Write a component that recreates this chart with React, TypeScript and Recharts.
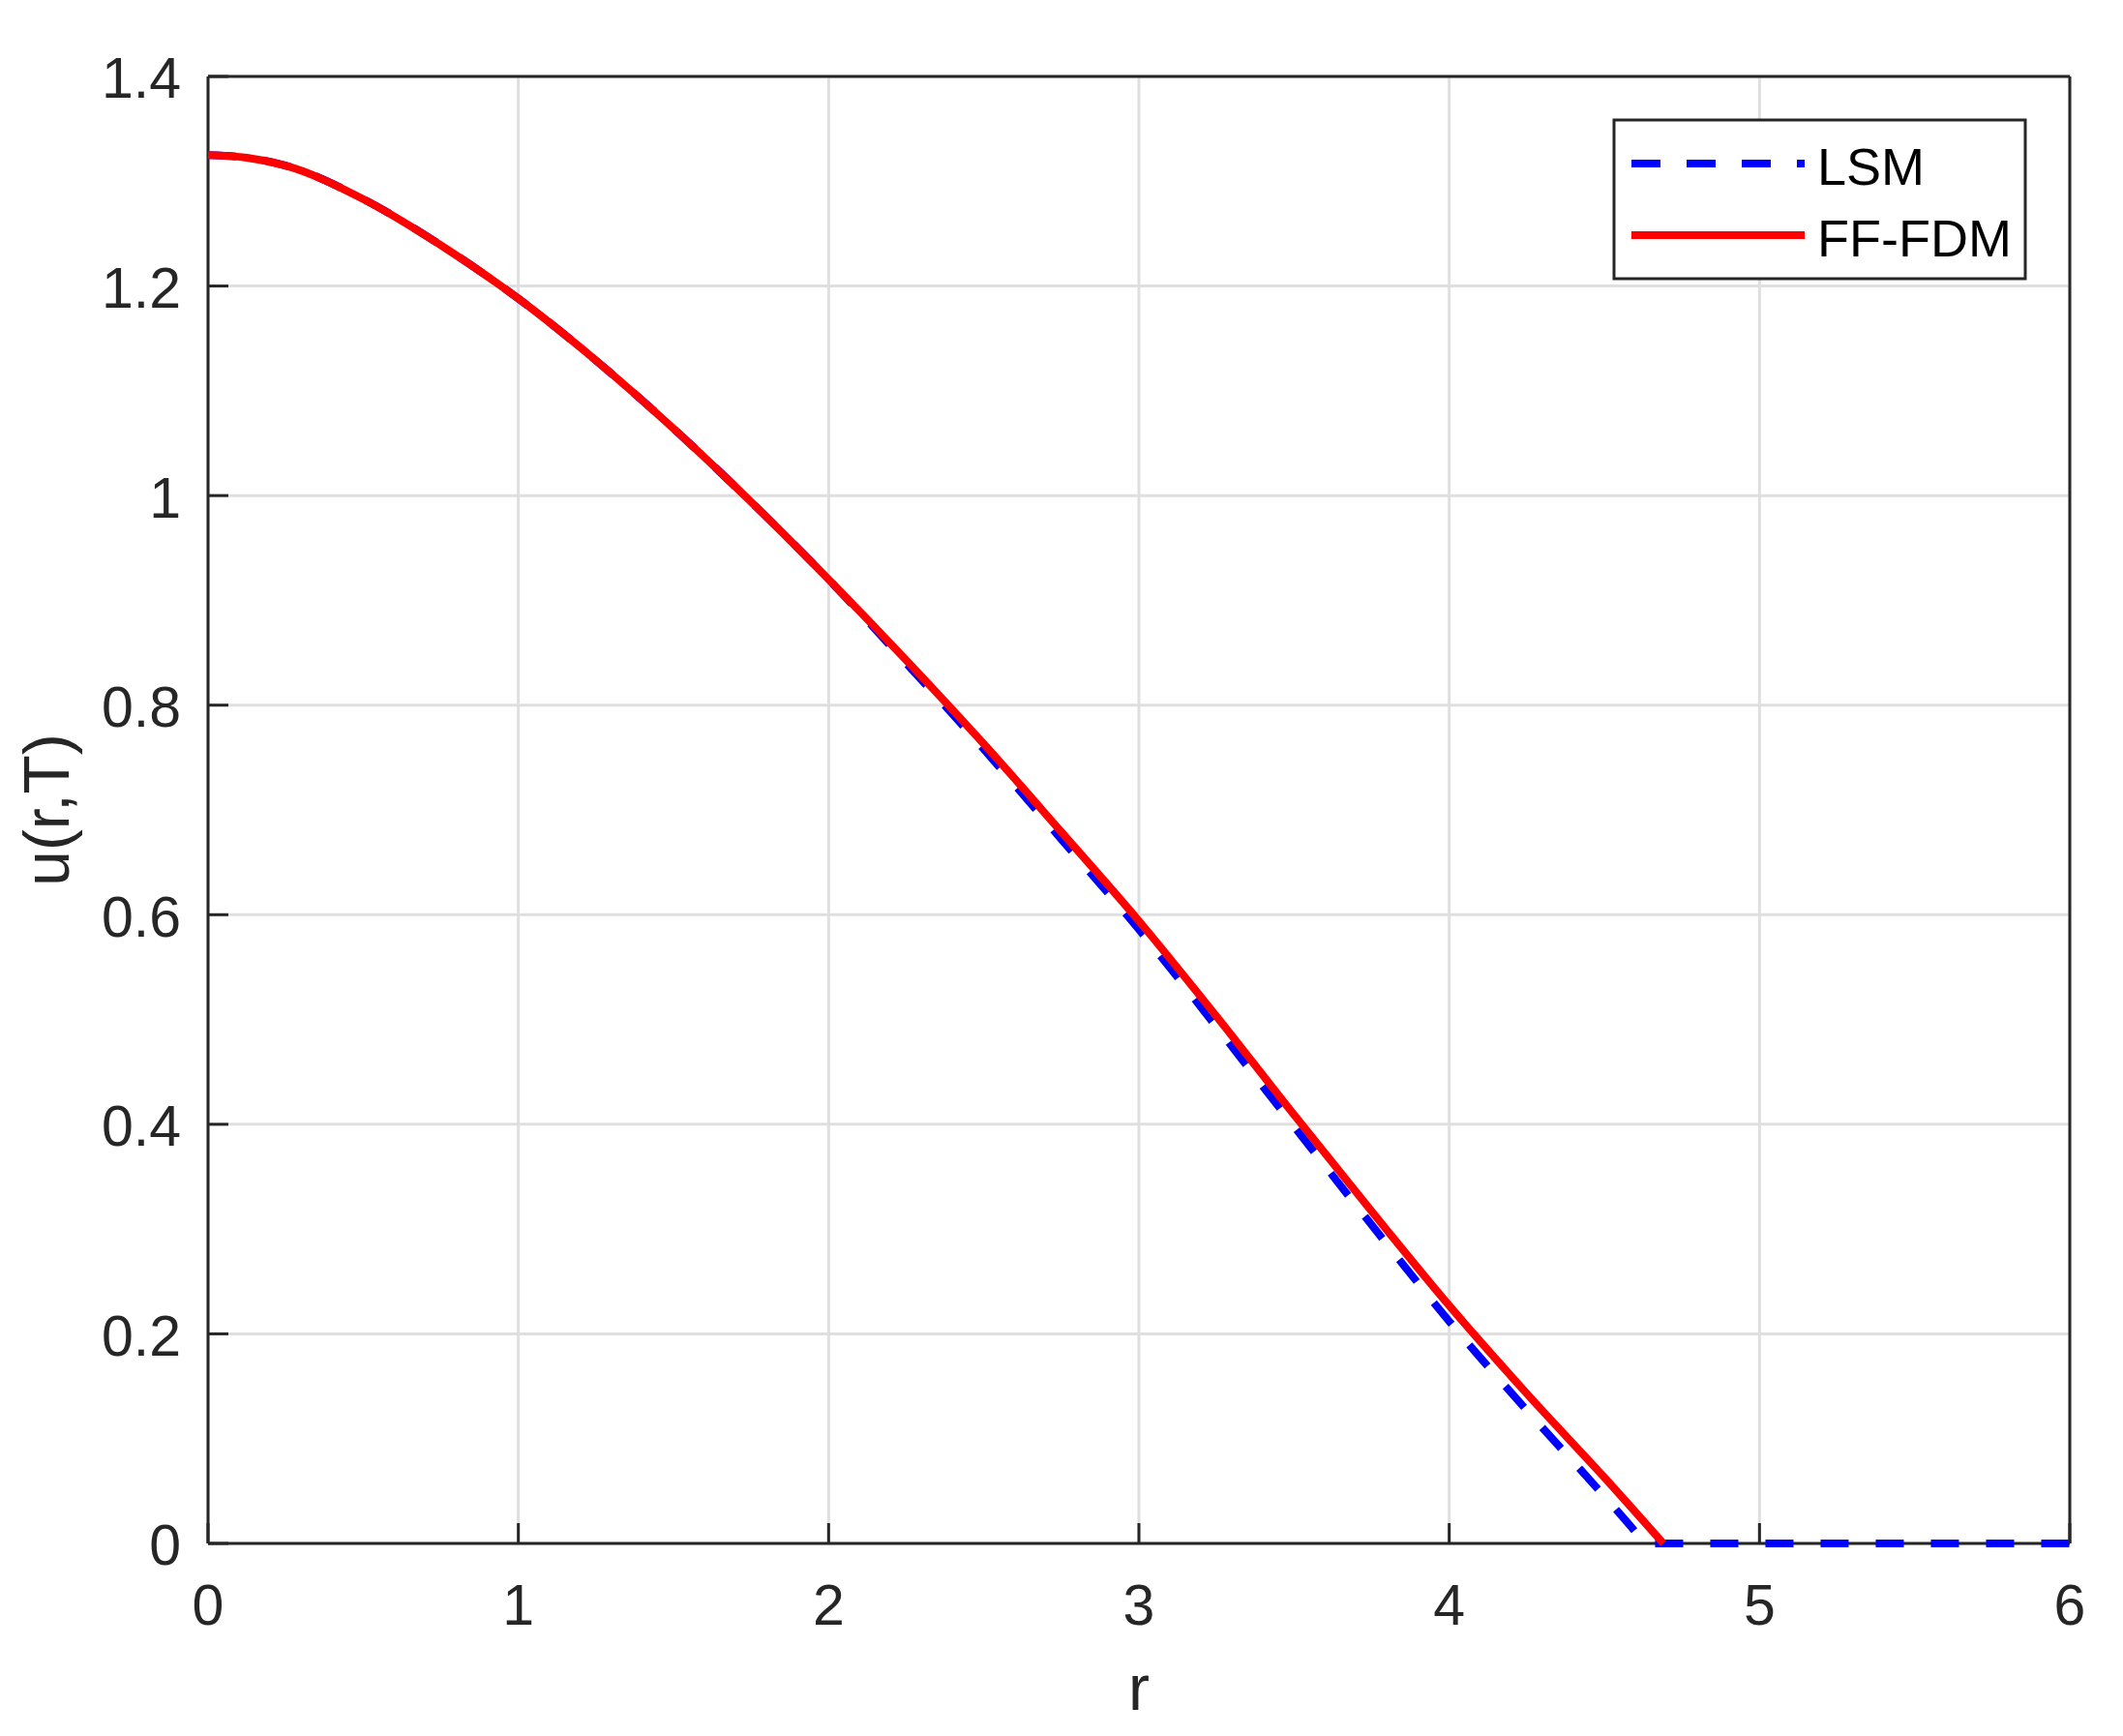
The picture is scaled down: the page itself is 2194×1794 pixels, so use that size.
import React from "react";
import { LineChart, Line, XAxis, YAxis, CartesianGrid } from "recharts";

// FF-FDM solution (solid red), stops at the free boundary
const fdmR = [0, 0.125, 0.25, 0.5, 0.75, 1, 1.25, 1.5, 1.75, 2, 2.25, 2.5, 2.75, 3, 3.25, 3.5, 3.75, 4, 4.25, 4.5, 4.69];
const fdmU = [1.325, 1.3225, 1.315, 1.283, 1.239, 1.188, 1.129, 1.064, 0.994, 0.92, 0.843, 0.763, 0.679, 0.594, 0.503, 0.409, 0.317, 0.227, 0.143, 0.063, 0];

// LSM solution (dashed blue), flat zero after ~4.63
const lsmR = [0, 0.125, 0.25, 0.5, 0.75, 1, 1.25, 1.5, 1.75, 2, 2.25, 2.5, 2.75, 3, 3.25, 3.5, 3.75, 4, 4.25, 4.5, 4.6, 4.63, 5, 5.5, 6];
const lsmU = [1.325, 1.3225, 1.315, 1.283, 1.239, 1.188, 1.129, 1.064, 0.994, 0.92, 0.84, 0.758, 0.672, 0.586, 0.493, 0.398, 0.304, 0.212, 0.127, 0.045, 0.011, 0, 0, 0, 0];

const xTicks = [0, 1, 2, 3, 4, 5, 6];
const yTicks = [0, 0.2, 0.4, 0.6, 0.8, 1, 1.2, 1.4];

const fdmData = fdmR.map((r, i) => ({ r, u: fdmU[i] }));
const lsmData = lsmR.map((r, i) => ({ r, u: lsmU[i] }));

const W = 2194;
const H = 1794;
const AXIS = "#262626";
const GRID = "#dfdfdf";
const FONT = "'Liberation Sans', Arial, Helvetica, sans-serif";
const TICK_FS = 59;
const LABEL_FS = 66;
const TICK_LEN = 21;

const Y_MARGIN = 28;
const X_MARGIN = 42;

// eslint-disable-next-line @typescript-eslint/no-explicit-any
const LeftTick = ({ x, y, payload }: any) => (
  <g>
    <line x1={x + Y_MARGIN} x2={x + Y_MARGIN + TICK_LEN} y1={y} y2={y} stroke={AXIS} strokeWidth={3} />
    <text x={x} y={y} dy="0.38em" textAnchor="end" fontFamily={FONT} fontSize={TICK_FS} fill={AXIS}>
      {payload.value}
    </text>
  </g>
);

// eslint-disable-next-line @typescript-eslint/no-explicit-any
const BottomTick = ({ x, y, payload }: any) => (
  <g>
    <line x1={x} x2={x} y1={y - X_MARGIN} y2={y - X_MARGIN - TICK_LEN} stroke={AXIS} strokeWidth={3} />
    <text x={x} y={y} dy="0.71em" textAnchor="middle" fontFamily={FONT} fontSize={TICK_FS} fill={AXIS}>
      {payload.value}
    </text>
  </g>
);

// eslint-disable-next-line @typescript-eslint/no-explicit-any
const TopTick = ({ x, y }: any) => (
  <line x1={x} x2={x} y1={y} y2={y + TICK_LEN} stroke={AXIS} strokeWidth={3} />
);

// eslint-disable-next-line @typescript-eslint/no-explicit-any
const RightTick = ({ x, y }: any) => (
  <line x1={x} x2={x - TICK_LEN} y1={y} y2={y} stroke={AXIS} strokeWidth={3} />
);

// eslint-disable-next-line @typescript-eslint/no-explicit-any
const XLabel = ({ viewBox }: any) => (
  <text
    x={viewBox.x + viewBox.width / 2}
    y={viewBox.y + 172}
    textAnchor="middle"
    fontFamily={FONT}
    fontSize={LABEL_FS}
    fill={AXIS}
  >
    r
  </text>
);

// eslint-disable-next-line @typescript-eslint/no-explicit-any
const YLabel = ({ viewBox }: any) => {
  const cx = 71;
  const cy = viewBox.y + viewBox.height / 2;
  return (
    <text
      x={cx}
      y={cy}
      transform={`rotate(-90, ${cx}, ${cy})`}
      textAnchor="middle"
      fontFamily={FONT}
      fontSize={LABEL_FS}
      fill={AXIS}
    >
      u(r,T)
    </text>
  );
};

const legendItems = [
  { name: "LSM", color: "#0000ff", dash: "30 27", y: 169 },
  { name: "FF-FDM", color: "#ff0000", dash: undefined, y: 243 },
];

export default function App() {
  return (
    <div style={{ position: "absolute", left: 0, top: 0, width: W, height: H, background: "#fff" }}>
      <LineChart width={W} height={H} margin={{ top: 0, right: 0, bottom: 0, left: 0 }}>
        <CartesianGrid stroke={GRID} strokeWidth={3} />
        <XAxis
          dataKey="r"
          type="number"
          domain={[0, 6]}
          ticks={xTicks}
          height={199}
          tickSize={0}
          tickMargin={X_MARGIN}
          tick={<BottomTick />}
          axisLine={{ stroke: AXIS, strokeWidth: 3 }}
          tickLine={false}
          label={<XLabel />}
        />
        <XAxis
          xAxisId="top"
          orientation="top"
          type="number"
          domain={[0, 6]}
          ticks={xTicks}
          height={79}
          tickSize={0}
          tickMargin={0}
          tick={<TopTick />}
          axisLine={{ stroke: AXIS, strokeWidth: 3 }}
          tickLine={false}
        />
        <YAxis
          type="number"
          domain={[0, 1.4]}
          ticks={yTicks}
          width={215}
          tickSize={0}
          tickMargin={Y_MARGIN}
          tick={<LeftTick />}
          axisLine={{ stroke: AXIS, strokeWidth: 3 }}
          tickLine={false}
          label={<YLabel />}
        />
        <YAxis
          yAxisId="right"
          orientation="right"
          type="number"
          domain={[0, 1.4]}
          ticks={yTicks}
          width={55}
          tickSize={0}
          tickMargin={0}
          tick={<RightTick />}
          axisLine={{ stroke: AXIS, strokeWidth: 3 }}
          tickLine={false}
        />
        <Line
          data={lsmData}
          dataKey="u"
          name="LSM"
          type="monotone"
          stroke="#0000ff"
          strokeWidth={8}
          strokeDasharray="29 28"
          dot={false}
          activeDot={false}
          isAnimationActive={false}
          zIndex={600}
        />
        <Line
          data={fdmData}
          dataKey="u"
          name="FF-FDM"
          type="monotone"
          stroke="#ff0000"
          strokeWidth={8}
          dot={false}
          activeDot={false}
          isAnimationActive={false}
          zIndex={610}
        />
      </LineChart>
      <svg width={W} height={H} style={{ position: "absolute", left: 0, top: 0, pointerEvents: "none" }}>
        <rect x={1668} y={124} width={425} height={164} fill="#fff" stroke={AXIS} strokeWidth={3} />
        {legendItems.map((it) => (
          <g key={it.name}>
            <line x1={1686} x2={1865} y1={it.y} y2={it.y} stroke={it.color} strokeWidth={8} strokeDasharray={it.dash} />
            <text x={1878} y={it.y + 22} fontFamily={FONT} fontSize={54} fill="#000">
              {it.name}
            </text>
          </g>
        ))}
      </svg>
    </div>
  );
}
